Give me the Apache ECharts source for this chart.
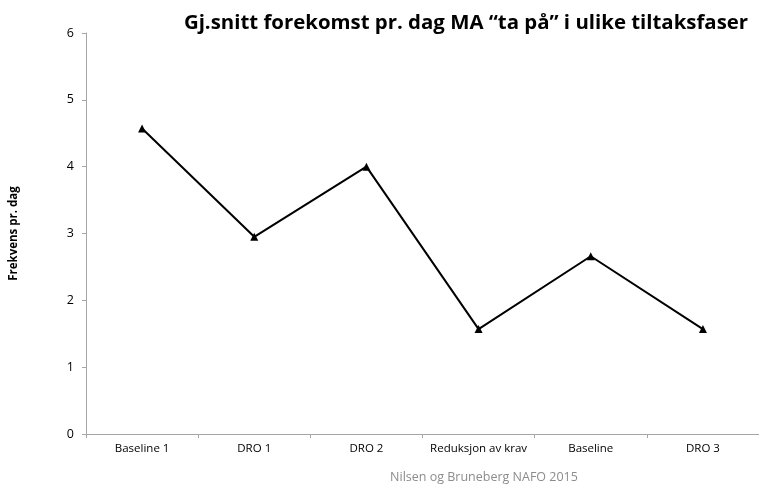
<!DOCTYPE html>
<html><head><meta charset="utf-8">
<script src="https://cdn.jsdelivr.net/npm/echarts@6/dist/echarts.min.js"></script>
<style>html,body{margin:0;padding:0;background:#fff}#c{width:759px;height:484px}</style>
</head><body><div id="c"></div>
<script>
const categories = ["Baseline 1", "DRO 1", "DRO 2", "Reduksjon av krav", "Baseline", "DRO 3"];
const values = [4.57, 2.95, 4.0, 1.57, 2.66, 1.57];
const yTicks = [0, 1, 2, 3, 4, 5, 6];
const titleText = "Gj.snitt forekomst pr. dag MA \u201cta på\u201d i ulike tiltaksfaser";
const yAxisName = "Frekvens pr. dag";
const footer = "Nilsen og Bruneberg NAFO 2015";

const chart = echarts.init(document.getElementById('c'));
chart.setOption({
  animation: false,
  textStyle: {fontFamily: "Open Sans"},
  title: [{
    text: titleText, left: 465, top: 8, textAlign: 'center',
    textStyle: {fontFamily: "Open Sans", fontWeight: 'bold', fontSize: 20.4, color: '#000'}
  }, {
    text: footer, left: 479, top: 466, textAlign: 'center',
    textStyle: {fontFamily: "Open Sans", fontWeight: 'normal', fontSize: 12.5, color: '#8c8c8c'}
  }],
  grid: {left: 86, right: 0, top: 33, bottom: 50, containLabel: false},
  xAxis: {
    type: 'category', data: categories, boundaryGap: true,
    axisLine: {lineStyle: {color: '#a6a6a6', width: 1}},
    axisTick: {show: true, length: 4, lineStyle: {color: '#a6a6a6'}},
    axisLabel: {color: '#000', fontSize: 11.5, margin: 9, interval: 0}
  },
  yAxis: {
    type: 'value', min: yTicks[0], max: yTicks[yTicks.length - 1], interval: 1,
    name: yAxisName, nameLocation: 'middle', nameGap: 66, nameRotate: 90,
    nameTextStyle: {fontWeight: 'bold', fontSize: 11.5, color: '#000'},
    axisLine: {show: true, lineStyle: {color: '#a6a6a6', width: 1}},
    axisTick: {show: true, length: 4, lineStyle: {color: '#a6a6a6'}},
    splitLine: {show: false},
    axisLabel: {color: '#000', fontSize: 12.5, margin: 12}
  },
  series: [{
    type: 'line', data: values,
    symbol: 'triangle', symbolSize: 8,
    lineStyle: {color: '#000', width: 2},
    itemStyle: {color: '#000'}
  }]
});
chart.setOption({title: [{left: 461}]});
</script></body></html>
